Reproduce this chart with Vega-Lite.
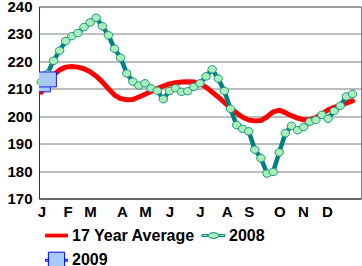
{
  "$schema": "https://vega.github.io/schema/vega-lite/v6.json",
  "width": 322,
  "height": 192,
  "autosize": {"type": "none"},
  "padding": {"left": 39, "top": 6.5, "right": 1, "bottom": 67.5},
  "background": "white",
  "config": {
    "font": "Liberation Sans",
    "view": {"stroke": "#808080", "strokeWidth": 1}
  },
  "datasets": {
    "avg": [
      {"series": "17 Year Average", "week": 1, "value": 208.8},
      {"series": "17 Year Average", "week": 2, "value": 212},
      {"series": "17 Year Average", "week": 3, "value": 215},
      {"series": "17 Year Average", "week": 4, "value": 216.9},
      {"series": "17 Year Average", "week": 5, "value": 217.9},
      {"series": "17 Year Average", "week": 6, "value": 218.1},
      {"series": "17 Year Average", "week": 7, "value": 217.9},
      {"series": "17 Year Average", "week": 8, "value": 217.3},
      {"series": "17 Year Average", "week": 9, "value": 216.2},
      {"series": "17 Year Average", "week": 10, "value": 214.6},
      {"series": "17 Year Average", "week": 11, "value": 212.5},
      {"series": "17 Year Average", "week": 12, "value": 210},
      {"series": "17 Year Average", "week": 13, "value": 207.7},
      {"series": "17 Year Average", "week": 14, "value": 206.4},
      {"series": "17 Year Average", "week": 15, "value": 206},
      {"series": "17 Year Average", "week": 16, "value": 206.1},
      {"series": "17 Year Average", "week": 17, "value": 207},
      {"series": "17 Year Average", "week": 18, "value": 208},
      {"series": "17 Year Average", "week": 19, "value": 209},
      {"series": "17 Year Average", "week": 20, "value": 210.1},
      {"series": "17 Year Average", "week": 21, "value": 211},
      {"series": "17 Year Average", "week": 22, "value": 211.8},
      {"series": "17 Year Average", "week": 23, "value": 212.2},
      {"series": "17 Year Average", "week": 24, "value": 212.5},
      {"series": "17 Year Average", "week": 25, "value": 212.6},
      {"series": "17 Year Average", "week": 26, "value": 212.5},
      {"series": "17 Year Average", "week": 27, "value": 211.9},
      {"series": "17 Year Average", "week": 28, "value": 210.6},
      {"series": "17 Year Average", "week": 29, "value": 208.8},
      {"series": "17 Year Average", "week": 30, "value": 207},
      {"series": "17 Year Average", "week": 31, "value": 205},
      {"series": "17 Year Average", "week": 32, "value": 203},
      {"series": "17 Year Average", "week": 33, "value": 201.2},
      {"series": "17 Year Average", "week": 34, "value": 199.6},
      {"series": "17 Year Average", "week": 35, "value": 198.6},
      {"series": "17 Year Average", "week": 36, "value": 198.3},
      {"series": "17 Year Average", "week": 37, "value": 198.4},
      {"series": "17 Year Average", "week": 38, "value": 199.8},
      {"series": "17 Year Average", "week": 39, "value": 201.6},
      {"series": "17 Year Average", "week": 40, "value": 202.2},
      {"series": "17 Year Average", "week": 41, "value": 201.3},
      {"series": "17 Year Average", "week": 42, "value": 200.2},
      {"series": "17 Year Average", "week": 43, "value": 199.3},
      {"series": "17 Year Average", "week": 44, "value": 198.7},
      {"series": "17 Year Average", "week": 45, "value": 198.7},
      {"series": "17 Year Average", "week": 46, "value": 199.5},
      {"series": "17 Year Average", "week": 47, "value": 200.8},
      {"series": "17 Year Average", "week": 48, "value": 202.3},
      {"series": "17 Year Average", "week": 49, "value": 203.2},
      {"series": "17 Year Average", "week": 50, "value": 204},
      {"series": "17 Year Average", "week": 51, "value": 204.8},
      {"series": "17 Year Average", "week": 52, "value": 205.6},
      {"series": "2008", "week": 1, "value": 212.5},
      {"series": "2008", "week": 2, "value": 215.5},
      {"series": "2008", "week": 3, "value": 220.2},
      {"series": "2008", "week": 4, "value": 223.9},
      {"series": "2008", "week": 5, "value": 227.4},
      {"series": "2008", "week": 6, "value": 229.2},
      {"series": "2008", "week": 7, "value": 230.3},
      {"series": "2008", "week": 8, "value": 232.5},
      {"series": "2008", "week": 9, "value": 234.2},
      {"series": "2008", "week": 10, "value": 235.9},
      {"series": "2008", "week": 11, "value": 232.8},
      {"series": "2008", "week": 12, "value": 229.5},
      {"series": "2008", "week": 13, "value": 224.6},
      {"series": "2008", "week": 14, "value": 221.3},
      {"series": "2008", "week": 15, "value": 215.6},
      {"series": "2008", "week": 16, "value": 212.6},
      {"series": "2008", "week": 17, "value": 211.2},
      {"series": "2008", "week": 18, "value": 212},
      {"series": "2008", "week": 19, "value": 210.2},
      {"series": "2008", "week": 20, "value": 209.3},
      {"series": "2008", "week": 21, "value": 206.2},
      {"series": "2008", "week": 22, "value": 209.2},
      {"series": "2008", "week": 23, "value": 210.2},
      {"series": "2008", "week": 24, "value": 208.9},
      {"series": "2008", "week": 25, "value": 209.1},
      {"series": "2008", "week": 26, "value": 210.7},
      {"series": "2008", "week": 27, "value": 212},
      {"series": "2008", "week": 28, "value": 214.5},
      {"series": "2008", "week": 29, "value": 217.1},
      {"series": "2008", "week": 30, "value": 213.7},
      {"series": "2008", "week": 31, "value": 209.2},
      {"series": "2008", "week": 32, "value": 202.7},
      {"series": "2008", "week": 33, "value": 196.8},
      {"series": "2008", "week": 34, "value": 195.4},
      {"series": "2008", "week": 35, "value": 194.5},
      {"series": "2008", "week": 36, "value": 187.8},
      {"series": "2008", "week": 37, "value": 184.7},
      {"series": "2008", "week": 38, "value": 179.1},
      {"series": "2008", "week": 39, "value": 179.7},
      {"series": "2008", "week": 40, "value": 186.8},
      {"series": "2008", "week": 41, "value": 193.8},
      {"series": "2008", "week": 42, "value": 196.5},
      {"series": "2008", "week": 43, "value": 194.9},
      {"series": "2008", "week": 44, "value": 196},
      {"series": "2008", "week": 45, "value": 198},
      {"series": "2008", "week": 46, "value": 198.6},
      {"series": "2008", "week": 47, "value": 200.5},
      {"series": "2008", "week": 48, "value": 199.1},
      {"series": "2008", "week": 49, "value": 201.9},
      {"series": "2008", "week": 50, "value": 203.8},
      {"series": "2008", "week": 51, "value": 207.2},
      {"series": "2008", "week": 52, "value": 208.1},
      {"series": "2009", "week": 1, "value": 211.6},
      {"series": "2009", "week": 2, "value": 213.4}
    ]
  },
  "data": {"name": "avg"},
  "encoding": {
    "x": {
      "field": "week",
      "type": "quantitative",
      "scale": {"domain": [0.62, 53.4], "nice": false, "zero": false},
      "axis": {
        "title": null,
        "values": [1, 5.3, 9, 14.2, 18, 22, 27, 31.4, 35, 40, 43.9, 47.8],
        "labelExpr": "['J','F','M','A','M','J','J','A','S','O','N','D'][indexof([1,5.3,9,14.2,18,22,27,31.4,35,40,43.9,47.8], datum.value)]",
        "grid": false,
        "ticks": false,
        "domainColor": "#333333",
        "labelFontSize": 15,
        "labelFontWeight": "bold",
        "labelColor": "#000000",
        "labelPadding": 6,
        "labelAngle": 0,
        "labelFlush": false,
        "labelOverlap": false
      }
    },
    "y": {
      "field": "value",
      "type": "quantitative",
      "scale": {"domain": [170, 240], "nice": false, "zero": false},
      "axis": {
        "title": null,
        "values": [170, 180, 190, 200, 210, 220, 230, 240],
        "grid": true,
        "gridColor": "#7a7a7a",
        "gridWidth": 1,
        "ticks": false,
        "domainColor": "#333333",
        "labelFontSize": 15,
        "labelFontWeight": "bold",
        "labelColor": "#000000",
        "labelPadding": 7
      }
    }
  },
  "layer": [
    {
      "transform": [{"filter": "datum.series === '17 Year Average'"}],
      "mark": {"type": "line", "strokeWidth": 5, "strokeCap": "round", "strokeJoin": "round"},
      "encoding": {
        "stroke": {
          "field": "series",
          "type": "nominal",
          "scale": {"domain": ["17 Year Average", "2008", "2009"], "range": ["#ff0000", "#008080", "#0000ff"]},
          "legend": {
            "title": null,
            "orient": "none",
            "legendX": 6,
            "legendY": 217.3,
            "direction": "horizontal",
            "columns": 2,
            "columnPadding": 3,
            "rowPadding": 5,
            "padding": 0,
            "symbolSize": 484,
            "symbolStrokeWidth": 1,
            "labelOffset": 4,
            "labelFontSize": 16,
            "labelFontWeight": "bold",
            "labelColor": "#000000",
            "labelLimit": 300,
            "encoding": {
              "symbols": {
                "shape": {
                  "condition": [
                    {"test": "datum.value === '17 Year Average'", "value": "M-1,-0.13H1V0.13H-1Z"},
                    {"test": "datum.value === '2008'", "value": "M-1.05,-0.09H-0.5V0.09H-1.05Z M0.5,-0.09H1.05V0.09H0.5Z M-0.5,0A0.5,0.26 0 1,1 0.5,0A0.5,0.26 0 1,1 -0.5,0Z"}
                  ],
                  "value": "M-1,-0.09H-0.74V0.09H-1Z M0.74,-0.09H1V0.09H0.74Z M-0.74,-0.74H0.74V0.74H-0.74Z"
                },
                "fill": {
                  "condition": [
                    {"test": "datum.value === '17 Year Average'", "value": "#ff0000"},
                    {"test": "datum.value === '2008'", "value": "#a8f0b8"}
                  ],
                  "value": "#a6cbf9"
                },
                "stroke": {
                  "condition": [
                    {"test": "datum.value === '17 Year Average'", "value": "#ff0000"},
                    {"test": "datum.value === '2008'", "value": "#008080"}
                  ],
                  "value": "#1a1aff"
                },
                "strokeWidth": {"value": 1},
                "opacity": {"value": 1}
              }
            }
          }
        }
      }
    },
    {
      "transform": [{"filter": "datum.series === '2008'"}],
      "mark": {"type": "line", "strokeWidth": 4.5, "strokeCap": "round", "strokeJoin": "round"},
      "encoding": {
        "stroke": {"field": "series", "type": "nominal"}
      }
    },
    {
      "transform": [{"filter": "datum.series === '2009'"}],
      "mark": {"type": "line", "strokeWidth": 2.5, "strokeCap": "round", "strokeJoin": "round"},
      "encoding": {
        "stroke": {"field": "series", "type": "nominal"}
      }
    },
    {
      "transform": [{"filter": "datum.series === '2008'"}],
      "mark": {
        "type": "point",
        "shape": "M-1,0A1,0.88 0 1,1 1,0A1,0.88 0 1,1 -1,0Z",
        "filled": true,
        "fill": "#a8f0b8",
        "stroke": "#1e9488",
        "strokeWidth": 1,
        "size": 72,
        "opacity": 1
      }
    },
    {
      "transform": [{"filter": "datum.series === '2009'"}],
      "mark": {
        "type": "point",
        "shape": "M-1,-0.83H1V0.83H-1Z",
        "filled": true,
        "fill": "#a6cbf9",
        "stroke": "#1a1aff",
        "strokeWidth": 1,
        "size": 324,
        "opacity": 1,
        "clip": true
      }
    }
  ]
}
